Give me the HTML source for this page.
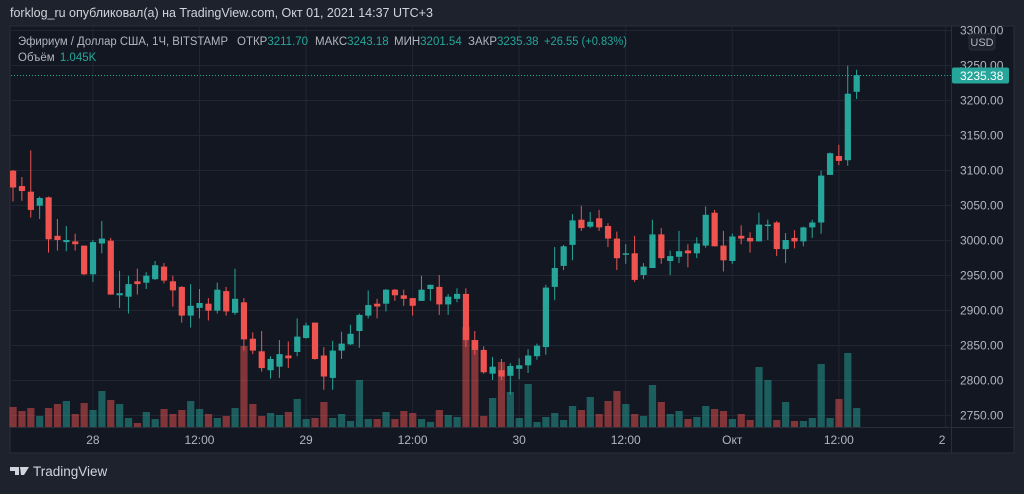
<!DOCTYPE html>
<html><head><meta charset="utf-8">
<style>
html,body{margin:0;padding:0;background:#1e222d;}
body{width:1024px;height:489px;overflow:hidden;font-family:"Liberation Sans","Noto Sans CJK SC",sans-serif;}
</style></head>
<body>
<svg id="chart" width="1024" height="489" xmlns="http://www.w3.org/2000/svg" font-family="Liberation Sans, DejaVu Sans, sans-serif">
<rect x="0" y="0" width="1024" height="489" fill="#1e222d"/>
<text x="10" y="17" fill="#d1d4dc" font-size="12.5">forklog_ru опубликовал(а) на TradingView.com, Окт 01, 2021 14:37 UTC+3</text>
<rect x="10" y="26" width="1004" height="427" fill="#131722" stroke="#2a2e39"/>
<g id="grid"></g>
<g id="vols"></g>
<g id="candles"></g>
<line x1="951.5" y1="26" x2="951.5" y2="453" stroke="#2a2e39"/>
<line x1="10" y1="427.5" x2="1014" y2="427.5" stroke="#2a2e39"/>
<g id="yaxis"></g>
<g id="xaxis"></g>
<g font-size="11.5">
<text x="18" y="45" fill="#b2b5be" textLength="210" lengthAdjust="spacingAndGlyphs">Эфириум / Доллар США, 1Ч, BITSTAMP</text>
<text x="237" y="45" fill="#b2b5be">ОТКР<tspan fill="#26a69a">3211.70</tspan></text>
<text x="315" y="45" fill="#b2b5be">МАКС<tspan fill="#26a69a">3243.18</tspan></text>
<text x="394" y="45" fill="#b2b5be">МИН<tspan fill="#26a69a">3201.54</tspan></text>
<text x="468" y="45" fill="#b2b5be">ЗАКР<tspan fill="#26a69a">3235.38</tspan></text>
<text x="544" y="45" fill="#26a69a" textLength="83" lengthAdjust="spacingAndGlyphs">+26.55 (+0.83%)</text>
<text x="18" y="61" fill="#b2b5be">Объём <tspan dx="2" fill="#26a69a">1.045K</tspan></text>
</g>
<g><rect x="969" y="34" width="26" height="16" rx="3" fill="#1e222d" stroke="#2a2e39"/><text x="982" y="46" text-anchor="middle" fill="#b2b5be" font-size="11">USD</text></g>
<g><path d="M10 467h9v8h-4v-4h-5z M20 467h9l-5 8h-3z" fill="#d1d4dc"/><text x="33" y="476" fill="#d1d4dc" font-size="13.5">TradingView</text></g>
</svg>
<script>
const opens=[3099,3077,3069,3049,3061,3006,2997,2998,2992,2951,2995,2999,2921,2919,2941,2939,2944,2962,2941,2933,2892,2903,2909,2899,2927,2896,2911,2859,2841,2814,2819,2835,2840,2860,2882,2835,2803,2842,2851,2870,2892,2909,2909,2929,2921,2917,2913,2930,2933,2908,2916,2923,2857,2843,2809,2814,2806,2816,2821,2834,2847,2933,2963,2993,3029,3019,3031,3020,3002,2979,2981,2950,2960,3008,2970,2976,2985,2981,2992,3039,2992,2970,3006,3003,2998,3021,3025,2987,3003,2998,3018,3025,3093,3120,3114,3211.7];
const highs=[3100,3090,3128,3062,3062,3030,3020,3009,2992,3000,3027,3003,2956,2949,2959,2954,2970,2967,2949,2934,2937,2930,2917,2939,2933,2959,2917,2868,2870,2834,2857,2855,2888,2882,2882,2847,2856,2869,2879,2895,2928,2916,2930,2930,2929,2917,2949,2936,2950,2923,2931,2931,2870,2848,2833,2830,2824,2831,2844,2852,2936,2990,2993,3037,3049,3040,3043,3024,3012,2994,3006,2967,3029,3017,2985,3013,2994,3004,3048,3043,3013,3009,3021,3011,3039,3029,3027,3010,3014,3019,3029,3099,3125,3136,3249,3243.18];
const lows=[3055,3056,3032,3030,2982,2985,2984,2985,2950,2940,2981,2922,2903,2895,2922,2930,2943,2938,2905,2882,2875,2888,2885,2895,2892,2893,2842,2837,2812,2802,2803,2817,2834,2859,2829,2786,2786,2830,2850,2846,2888,2888,2898,2913,2906,2892,2913,2913,2893,2893,2911,2847,2836,2809,2800,2800,2779,2801,2810,2829,2836,2914,2957,2971,3013,3017,3013,2990,2957,2966,2940,2944,2960,2966,2950,2967,2961,2974,2989,2991,2955,2966,2994,2982,2998,3000,2977,2967,2988,2991,3003,3009,3093,3107,3106,3201.54];
const closes=[3075,3070,3043,3060,3001,3000,3000,2994,2951,2997,3002,2922,2924,2937,2937,2949,2964,2942,2928,2892,2906,2910,2899,2929,2898,2916,2858,2842,2817,2830,2837,2831,2862,2878,2830,2805,2842,2852,2866,2893,2907,2905,2929,2921,2916,2906,2929,2936,2908,2919,2923,2857,2843,2811,2819,2805,2820,2821,2835,2849,2932,2960,2991,3028,3017,3026,3018,3002,2974,2981,2943,2962,3008,2974,2977,2984,2981,2995,3036,2991,2971,3005,3002,2998,3022,3022,2987,3000,2998,3018,3025,3092,3124,3113,3209,3235.38];
const volumes=[20,16,19,11,19,23,26,13,24,17,36,27,23,9,4,15,8,18,13,17,26,18,13,9,11,19,81,23,11,14,12,15,28,8,9,25,9,13,6,47,8,8,15,8,16,14,8,5,17,12,10,100,87,11,29,65,35,9,43,5,10,14,7,21,17,30,13,26,36,23,13,11,42,25,13,16,8,10,21,18,16,8,13,7,60,47,7,25,6,6,9,63,9,28,74,19];
const priceTicks=[3300,3250,3200,3150,3100,3050,3000,2950,2900,2850,2800,2750];
const timeLabels=["28","12:00","29","12:00","30","12:00","Окт","12:00","2"];
const timeLabelIdx=[9,21,33,45,57,69,81,93,105];
const lastPrice=3235.38;

const NS="http://www.w3.org/2000/svg";
const xOf=i=>13+i*8.88;
const yOf=p=>240-(p-3000)*0.7;
const vOf=v=>427-v;
function mk(parent,tag,attrs){const e=document.createElementNS(NS,tag);for(const k in attrs)e.setAttribute(k,attrs[k]);document.getElementById(parent).appendChild(e);return e;}
const G="#26a69a",R="#ef5350";
priceTicks.forEach((p,k)=>{
  const y=Math.round(yOf(p))+0.5;
  const l=mk('grid','line',{x1:11,x2:951,y1:y,y2:y,stroke:'#222632'});
  
  
  const t=mk('yaxis','text',{x:960,y:y+4,fill:'#b2b5be','font-size':12});
  t.textContent=p.toFixed(2);
  
  
});
timeLabels.forEach((s,k)=>{
  const x=xOf(timeLabelIdx[k]);
  const l=mk('grid','line',{x1:x,x2:x,y1:27,y2:427,stroke:'#222632'});
  
  
  const t=mk('xaxis','text',{x:Math.min(x,947),y:444,fill:'#b2b5be','font-size':12,'text-anchor':x>940?'end':'middle'});
  t.textContent=s;
  
  
});
volumes.forEach((v,i)=>{
  const up=closes[i]>=opens[i];
  const b=mk('vols','rect',{x:xOf(i)-3.5,y:vOf(v),width:7.2,height:v,fill:up?'rgba(38,166,154,0.5)':'rgba(239,83,80,0.5)'});
  
  
});
opens.forEach((o,i)=>{
  const c=closes[i],up=c>=o,col=up?G:R,x=xOf(i);
  const w=mk('candles','line',{x1:x,x2:x,y1:yOf(highs[i]),y2:yOf(lows[i]),stroke:col,'stroke-width':1});
  
  
  const top=yOf(Math.max(o,c)),bot=yOf(Math.min(o,c));
  const b=mk('candles','rect',{x:x-3,y:top,width:6.2,height:Math.max(1.5,bot-top),fill:col});
  
  
});
const ly=Math.round(yOf(lastPrice))+0.5;
const pl=mk('candles','line',{x1:11,x2:951,y1:ly,y2:ly,stroke:G,'stroke-dasharray':'1 2'});


const lb=mk('yaxis','rect',{x:952,y:ly-8,width:57,height:16,rx:2,fill:G});


const lt=mk('yaxis','text',{x:960,y:ly+4.5,fill:'#ffffff','font-size':12});
lt.textContent=lastPrice.toFixed(2);


</script>
</body></html>
